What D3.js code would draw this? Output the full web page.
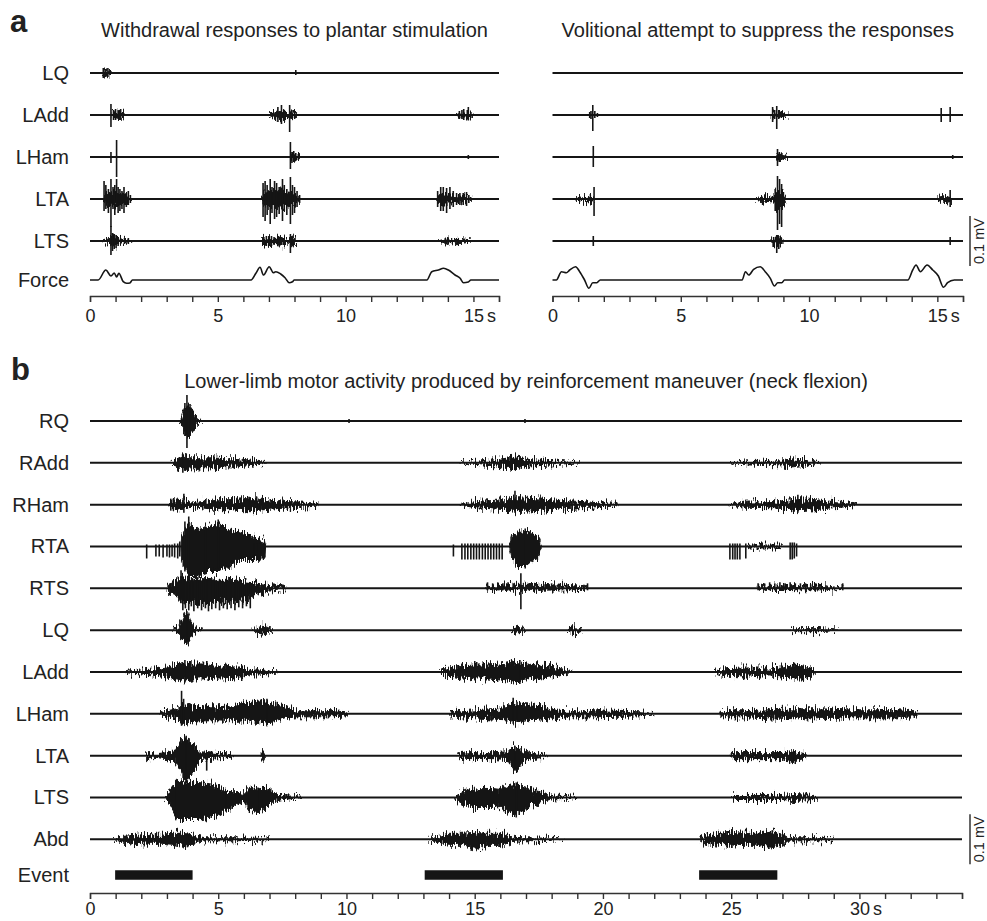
<!DOCTYPE html>
<html>
<head>
<meta charset="utf-8">
<script src="https://cdn.jsdelivr.net/npm/d3@7"></script>
<style>
  body { margin: 0; background: #fff; }
  svg text { font-family: Arial, "Liberation Sans", Helvetica, sans-serif; fill: #222; }
</style>
</head>
<body>
<script>
// ---- data (time in s, EMG amplitude in µV as [t, up, down], force in a.u.) ----
var musclesA = ["LQ", "LAdd", "LHam", "LTA", "LTS"];
var musclesB = ["RQ", "RAdd", "RHam", "RTA", "RTS", "LQ", "LAdd", "LHam", "LTA", "LTS", "Abd"];
var ticksA = [0, 5, 10, 15];
var ticksB = [0, 5, 10, 15, 20, 25, 30];

// a, left: withdrawal responses to plantar stimulation
var stimEnv = {
  LQ: [[[0.45, 0, 0], [0.6, 5, 5], [0.85, 0, 0]]],
  LAdd: [[[0.85, 0, 0], [1.0, 6, 6], [1.3, 4, 4], [1.4, 0, 0]],
         [[7.0, 0, 0], [7.1, 3, 3], [7.5, 8, 8], [7.9, 6, 6], [8.1, 0, 0]],
         [[14.3, 0, 0], [14.5, 4, 4], [14.9, 4, 4], [15.0, 0, 0]]],
  LHam: [[[7.8, 0, 0], [7.9, 8, 8], [8.2, 3, 3], [8.3, 0, 0]]],
  LTA: [[[0.5, 0, 0], [0.6, 10, 10], [1.0, 14, 14], [1.4, 8, 8], [1.65, 0, 0]],
        [[6.7, 0, 0], [6.8, 14, 14], [7.5, 16, 16], [8.0, 12, 12], [8.25, 0, 0]],
        [[13.55, 0, 0], [13.7, 8, 8], [14.1, 8, 8], [14.6, 5, 5], [14.95, 0, 0]]],
  LTS: [[[0.5, 0, 0], [0.7, 4, 4], [0.9, 10, 10], [1.2, 5, 5], [1.65, 0, 0]],
        [[6.7, 0, 0], [6.8, 6, 6], [7.5, 8, 8], [7.7, 4, 4], [7.95, 6, 6], [8.1, 0, 0]],
        [[13.6, 0, 0], [13.9, 4, 4], [14.5, 3, 3], [14.9, 0, 0]]]
};
var stimSpk = {
  LQ: [[0.52, 10, 10], [0.6, 8, 8], [0.7, 10, 8], [0.78, 4, 4], [8.05, 6, 4]],
  LAdd: [[0.82, 22, 24], [0.92, 10, 10], [1.0, 12, 10], [1.1, 10, 8], [1.2, 12, 10], [1.28, 6, 6],
         [7.15, 4, 4], [7.25, 6, 6], [7.35, 16, 14], [7.49, 20, 18], [7.6, 8, 8], [7.81, 20, 34],
         [7.9, 10, 8], [8.0, 6, 6], [14.45, 8, 8], [14.55, 10, 8], [14.62, 12, 10], [14.8, 16, 11], [14.9, 6, 6]],
  LHam: [[0.82, 10, 12], [1.04, 34, 40], [7.84, 30, 24], [7.9, 10, 12], [7.97, 12, 10], [8.05, 8, 8],
         [8.15, 6, 6], [14.8, 4, 4]],
  LTA: [[0.55, 36, 24], [0.62, 28, 20], [0.72, 20, 28], [0.82, 40, 56], [0.9, 24, 20], [0.97, 28, 32],
        [1.04, 40, 16], [1.1, 24, 28], [1.17, 20, 24], [1.25, 16, 20], [1.33, 24, 28], [1.42, 12, 16],
        [1.5, 16, 12], [1.58, 8, 8],
        [6.77, 32, 36], [6.85, 36, 44], [6.93, 28, 32], [7.05, 40, 50], [7.12, 24, 28], [7.22, 36, 40],
        [7.3, 32, 36], [7.4, 24, 30], [7.53, 40, 44], [7.6, 28, 24], [7.7, 20, 32], [7.84, 44, 50],
        [7.92, 28, 32], [8.0, 24, 28], [8.1, 16, 16], [8.2, 8, 8],
        [13.6, 16, 16], [13.72, 24, 24], [13.82, 24, 24], [13.95, 22, 28], [14.08, 24, 20], [14.21, 16, 16],
        [14.34, 12, 12], [14.47, 12, 12], [14.6, 12, 12], [14.73, 14, 14], [14.82, 8, 8], [14.89, 4, 4]],
  LTS: [[0.82, 30, 28], [0.88, 16, 20], [0.95, 14, 16], [1.02, 12, 14], [1.1, 8, 10], [1.2, 6, 6],
        [1.35, 6, 6], [1.5, 6, 6], [6.8, 8, 8], [6.9, 10, 10], [7.0, 10, 10], [7.1, 10, 10], [7.2, 8, 8],
        [7.35, 10, 10], [7.5, 8, 8], [7.84, 14, 24], [7.92, 8, 8], [13.9, 6, 6], [14.0, 8, 8], [14.4, 4, 4]]
};
var forceStim = [[0, 0], [0.32, 0], [0.62, 10], [0.82, 4], [0.95, 7], [1.04, 3], [1.13, 6.7], [1.3, -1.7],
  [1.43, -3.3], [1.56, -3], [1.66, 0], [6.3, 0], [6.49, 6.7], [6.65, 12.7], [6.79, 5], [7.01, 13.3],
  [7.17, 7.3], [7.27, 8.3], [7.46, 6], [7.63, 2.3], [7.79, -2.7], [7.92, -1.7], [7.99, 0], [13.18, 0],
  [13.37, 8.3], [13.63, 10], [13.83, 11.7], [14.02, 10], [14.28, 5], [14.48, 1.7], [14.61, -2.7],
  [14.8, -2], [14.9, 0], [16, 0]];

// a, right: volitional attempt to suppress
var suppEnv = {
  LQ: [],
  LAdd: [[[8.5, 0, 0], [8.6, 4, 4], [9.1, 2, 2], [9.2, 0, 0]]],
  LHam: [[[8.7, 0, 0], [8.8, 6, 6], [9.1, 2, 2], [9.2, 0, 0]]],
  LTA: [[[0.9, 0, 0], [1.1, 4, 4], [1.5, 6, 6], [1.65, 0, 0]],
        [[7.9, 0, 0], [8.2, 4, 4], [8.6, 6, 6], [8.75, 20, 20], [8.95, 16, 16], [9.1, 0, 0]],
        [[15.0, 0, 0], [15.2, 4, 4], [15.45, 6, 6], [15.6, 0, 0]]],
  LTS: [[[8.5, 0, 0], [8.65, 8, 8], [8.9, 6, 6], [9.0, 0, 0]]]
};
var suppSpk = {
  LQ: [],
  LAdd: [[1.45, 6, 6], [1.5, 8, 8], [1.57, 20, 32], [1.65, 8, 6], [1.75, 4, 4], [8.58, 16, 14],
         [8.66, 10, 8], [8.74, 18, 28], [8.82, 10, 8], [8.92, 8, 6], [9.02, 4, 4], [15.15, 14, 14], [15.5, 16, 14]],
  LHam: [[1.59, 22, 20], [8.77, 16, 18], [8.84, 10, 10], [8.93, 8, 6], [9.02, 4, 4], [15.6, 4, 4]],
  LTA: [[1.62, 24, 34], [8.68, 20, 24], [8.77, 46, 62], [8.85, 40, 50], [8.93, 30, 56], [9.0, 14, 14],
        [15.5, 18, 16]],
  LTS: [[1.59, 10, 10], [8.62, 8, 12], [8.74, 12, 24], [8.82, 10, 16], [8.92, 6, 6], [15.5, 8, 8]]
};
var forceSupp = [[0, 0], [0.15, 0], [0.35, 8.3], [0.54, 7.3], [0.67, 10], [0.9, 13.3], [1.06, 8.3],
  [1.25, 0], [1.42, -8.3], [1.57, -2.7], [1.73, -2.7], [1.86, 0], [7.39, 0], [7.52, 8.3], [7.65, 5],
  [7.84, 10.7], [8.1, 13.3], [8.29, 8.3], [8.49, 1.7], [8.65, -6], [8.78, -2.7], [8.94, -2.7], [9.04, 0],
  [13.85, 0], [14.04, 10], [14.17, 15], [14.34, 8.3], [14.6, 15], [14.82, 10], [15.04, 4], [15.24, -7.3],
  [15.4, -2.7], [15.66, 0], [16, 0]];

// b: reinforcement maneuver
var neckEnv = {
  RQ: [[[3.45, 0, 0], [3.55, 4, 4], [3.65, 20, 20], [3.72, 30, 30], [3.85, 30, 30], [3.95, 24, 24],
        [4.05, 16, 16], [4.15, 8, 8], [4.3, 2, 2], [4.4, 0, 0]]],
  RAdd: [[[3.15, 0, 0], [3.4, 8, 8], [3.6, 14, 14], [3.9, 10, 10], [4.3, 10, 10], [4.8, 10, 10], [5.3, 8, 8],
          [5.8, 8, 8], [6.3, 5, 5], [6.8, 1, 1], [6.9, 0, 0]],
         [[14.4, 0, 0], [15.0, 3, 3], [15.8, 6, 6], [16.6, 12, 12], [17.2, 6, 6], [17.8, 5, 5], [18.5, 2, 2], [19.1, 0, 0]],
         [[24.95, 0, 0], [26, 3, 3], [27, 4, 4], [27.4, 8, 8], [28, 4, 4], [28.5, 0, 0]]],
  RHam: [[[3.05, 0, 0], [3.3, 10, 10], [3.5, 8, 8], [3.8, 6, 6], [4.2, 5, 5], [4.6, 8, 8], [5.0, 10, 10],
          [5.5, 10, 10], [6.0, 12, 12], [6.4, 12, 12], [6.8, 10, 10], [7.3, 8, 8], [7.8, 6, 6], [8.3, 5, 5],
          [8.8, 3, 3], [8.9, 0, 0]],
         [[14.4, 0, 0], [15.0, 6, 6], [15.6, 8, 8], [16.2, 10, 10], [16.6, 14, 14], [17.3, 12, 12], [17.9, 10, 10],
          [18.5, 8, 8], [19.2, 6, 6], [19.8, 4, 4], [20.5, 3, 3], [20.6, 0, 0]],
         [[24.9, 0, 0], [25.5, 5, 5], [26.5, 6, 6], [27.1, 8, 8], [27.6, 12, 12], [28.3, 10, 10], [28.8, 7, 7],
          [29.3, 5, 5], [29.8, 2, 2], [29.9, 0, 0]]],
  RTA: [[[3.55, 0, 0], [3.57, 20, 30], [3.85, 44, 60], [4.2, 36, 60], [4.6, 40, 50], [5.0, 44, 50],
         [5.4, 36, 44], [5.8, 30, 26], [6.2, 24, 26], [6.5, 16, 26], [6.8, 10, 24], [6.85, 0, 0]],
        [[16.35, 0, 0], [16.45, 20, 24], [16.7, 30, 40], [16.97, 32, 40], [17.2, 28, 30], [17.5, 16, 20], [17.6, 0, 0]],
        [[25.6, 0, 0], [25.7, 3, 3], [26.9, 3, 3], [27.0, 0, 0]]],
  RTS: [[[3.0, 0, 0], [3.05, 8, 6], [3.3, 12, 12], [3.5, 20, 24], [3.6, 24, 30], [3.8, 18, 28], [4.2, 18, 28],
         [4.6, 20, 28], [5.0, 18, 28], [5.4, 18, 26], [5.8, 16, 24], [6.2, 14, 22], [6.5, 10, 12], [6.9, 8, 6],
         [7.3, 6, 4], [7.6, 4, 2], [7.65, 0, 0]],
        [[15.4, 0, 0], [15.5, 4, 2], [16.5, 8, 4], [17.5, 8, 4], [18.5, 6, 3], [19.3, 4, 2], [19.4, 0, 0]],
        [[26.0, 0, 0], [26.1, 4, 2], [28.5, 6, 3], [29.4, 0, 0]]],
  LQ: [[[3.2, 0, 0], [3.4, 6, 6], [3.55, 16, 16], [3.7, 32, 26], [3.8, 38, 28], [3.9, 20, 20], [4.05, 8, 8],
        [4.2, 3, 3], [4.4, 0, 0]],
       [[6.3, 0, 0], [6.5, 4, 4], [6.7, 8, 8], [6.9, 6, 6], [7.15, 0, 0]],
       [[16.4, 0, 0], [16.6, 6, 6], [16.9, 4, 4], [17.0, 0, 0]],
       [[18.6, 0, 0], [18.8, 5, 5], [19.1, 4, 4], [19.2, 0, 0]],
       [[27.3, 0, 0], [27.6, 3, 3], [28.5, 3, 3], [29.2, 0, 0]]],
  LAdd: [[[1.4, 0, 0], [1.5, 2, 2], [2.0, 4, 4], [2.5, 6, 6], [3.0, 10, 10], [3.4, 14, 14], [3.7, 18, 18],
          [4.0, 16, 16], [4.4, 16, 16], [4.8, 12, 12], [5.2, 12, 12], [5.6, 10, 10], [6.0, 10, 10], [6.3, 4, 4],
          [6.6, 4, 4], [6.9, 6, 6], [7.0, 2, 2], [7.3, 0, 0]],
         [[13.6, 0, 0], [14.0, 8, 8], [14.5, 12, 12], [15.0, 14, 14], [15.5, 14, 14], [16.0, 16, 16],
          [16.5, 20, 20], [17.0, 16, 16], [17.5, 14, 14], [18.0, 12, 12], [18.3, 8, 8], [18.6, 3, 3], [18.8, 0, 0]],
         [[24.3, 0, 0], [24.6, 6, 6], [25.5, 8, 8], [26.5, 8, 8], [27.0, 10, 10], [27.4, 14, 12], [27.8, 12, 12],
          [28.1, 8, 8], [28.3, 0, 0]]],
  LHam: [[[2.7, 0, 0], [2.8, 3, 3], [3.0, 6, 6], [3.4, 10, 10], [3.7, 20, 20], [4.0, 14, 14], [4.5, 14, 14],
          [5.0, 14, 14], [5.5, 16, 16], [6.0, 20, 14], [6.6, 26, 20], [7.2, 20, 16], [7.6, 16, 10], [8.0, 6, 6],
          [8.5, 6, 6], [9.0, 6, 6], [9.5, 6, 6], [10.0, 4, 4], [10.1, 0, 0]],
         [[14.0, 0, 0], [14.1, 4, 4], [14.5, 6, 6], [15.0, 8, 8], [15.6, 10, 10], [16.2, 12, 12], [16.5, 22, 20],
          [17.0, 18, 14], [17.7, 16, 12], [18.0, 8, 8], [18.6, 6, 6], [19.5, 6, 6], [20.5, 5, 5], [21.5, 4, 4], [22.0, 0, 0]],
         [[24.55, 0, 0], [24.6, 6, 6], [25.5, 6, 6], [26.5, 8, 8], [27.5, 10, 10], [28.5, 10, 10], [29.5, 8, 8],
          [30.5, 8, 8], [31.5, 8, 8], [32.2, 6, 6], [32.3, 0, 0]]],
  LTA: [[[2.15, 0, 0], [2.2, 4, 4], [2.6, 4, 4], [3.0, 6, 6], [3.3, 10, 10], [3.45, 24, 24], [3.6, 34, 40],
         [3.75, 38, 52], [3.9, 28, 40], [4.1, 16, 28], [4.3, 8, 8], [4.6, 6, 6], [5.0, 4, 4], [5.5, 4, 4], [5.6, 0, 0]],
        [[6.65, 0, 0], [6.75, 10, 10], [6.85, 0, 0]],
        [[14.3, 0, 0], [14.4, 4, 4], [14.8, 6, 6], [15.3, 6, 6], [15.8, 6, 6], [16.3, 8, 8], [16.5, 20, 30],
         [16.7, 16, 28], [16.9, 10, 10], [17.2, 6, 6], [17.6, 4, 4], [17.85, 0, 0]],
        [[24.95, 0, 0], [25.1, 6, 6], [27.0, 6, 6], [27.4, 8, 14], [27.9, 4, 4], [27.95, 0, 0]]],
  LTS: [[[2.9, 0, 0], [3.0, 4, 4], [3.2, 20, 24], [3.4, 32, 44], [3.8, 30, 44], [4.2, 30, 44], [4.6, 28, 40],
         [5.0, 24, 36], [5.3, 12, 28], [5.6, 12, 16], [6.0, 8, 8], [6.2, 18, 26], [6.6, 20, 28], [6.9, 20, 20],
         [7.2, 8, 8], [7.5, 4, 4], [8.0, 2, 2], [8.3, 0, 0]],
        [[14.2, 0, 0], [14.3, 6, 6], [14.6, 14, 14], [14.9, 16, 20], [15.3, 18, 20], [15.7, 18, 20], [16.0, 16, 18],
         [16.3, 24, 30], [16.6, 26, 36], [16.9, 20, 28], [17.2, 16, 16], [17.5, 12, 12], [17.8, 6, 6], [18.0, 3, 3],
         [18.5, 2, 2], [19.0, 0, 0]],
        [[25.0, 0, 0], [25.1, 4, 4], [27.0, 4, 4], [27.4, 6, 6], [28.3, 4, 4], [28.4, 0, 0]]],
  Abd: [[[0.9, 0, 0], [1.3, 6, 6], [1.8, 8, 8], [2.3, 10, 10], [2.8, 10, 10], [3.2, 12, 12], [3.6, 12, 16],
         [3.9, 10, 10], [4.2, 6, 6], [4.5, 3, 3], [5.5, 3, 3], [6.5, 2, 2], [7.0, 0, 0]],
        [[13.2, 0, 0], [13.6, 8, 8], [14.0, 12, 12], [14.5, 12, 12], [15.0, 14, 20], [15.5, 12, 12], [16.0, 12, 12],
         [16.3, 8, 8], [16.5, 4, 4], [17.0, 3, 3], [18.0, 2, 2], [18.5, 0, 0]],
        [[23.75, 0, 0], [24.0, 8, 8], [24.5, 12, 12], [25.0, 14, 14], [25.5, 12, 12], [26.0, 12, 12], [26.5, 16, 16],
         [27.0, 10, 10], [27.2, 4, 4], [27.5, 3, 3], [28.5, 3, 3], [29.0, 0, 0]]]
};
var neckSpk = {
  RQ: [[3.7, 36, 30], [3.78, 52, 54], [3.9, 34, 30], [10.1, 4, 4], [16.96, 4, 4]],
  RAdd: [[3.62, 18, 20], [16.6, 12, 14]],
  RHam: [[3.15, 12, 12], [3.25, 12, 12], [3.4, 10, 10], [3.66, 22, 16], [6.2, 16, 10], [6.5, 16, 10],
         [6.7, 14, 10], [16.57, 28, 16], [16.75, 16, 12], [27.6, 20, 16]],
  RTA: [[2.21, 4, 24], [2.57, 4, 20], [2.7, 4, 20], [2.85, 4, 22], [3.0, 4, 20], [3.1, 4, 22], [3.2, 4, 20],
        [3.3, 6, 22], [3.42, 6, 24], [3.5, 10, 20], [3.7, 50, 50], [3.85, 60, 64], [4.5, 40, 56], [5.0, 54, 44],
        [6.4, 6, 24], [6.5, 6, 26], [6.62, 6, 24], [6.72, 6, 24], [6.82, 4, 22],
        [14.17, 4, 20], [14.5, 6, 26], [14.62, 6, 26], [14.73, 6, 26], [14.85, 6, 26], [14.96, 6, 26],
        [15.07, 6, 26], [15.18, 6, 26], [15.3, 6, 26], [15.41, 6, 26], [15.52, 6, 26], [15.63, 6, 26],
        [15.74, 6, 26], [15.85, 6, 26], [15.96, 6, 26], [16.07, 6, 26], [16.97, 36, 44],
        [24.95, 6, 26], [25.06, 6, 26], [25.15, 6, 26], [25.24, 6, 26], [25.34, 6, 26], [25.57, 6, 24],
        [27.3, 8, 26], [27.38, 8, 26], [27.46, 8, 24], [27.55, 6, 20]],
  RTS: [[3.55, 36, 30], [3.62, 20, 44], [3.72, 16, 40], [3.85, 16, 44], [3.95, 14, 36], [4.05, 18, 46],
        [4.2, 16, 40], [4.35, 14, 44], [4.5, 18, 40], [4.62, 16, 46], [4.75, 20, 42], [4.9, 16, 40],
        [5.05, 18, 44], [5.2, 14, 40], [5.35, 16, 42], [5.5, 14, 40], [5.65, 12, 44], [5.8, 12, 38],
        [5.95, 10, 40], [6.1, 10, 36], [6.25, 8, 40],
        [15.5, 12, 4], [15.7, 10, 4], [15.9, 12, 4], [16.1, 10, 4], [16.3, 12, 4], [16.5, 10, 4], [16.8, 30, 42],
        [17.1, 10, 4], [17.4, 10, 4], [17.7, 8, 4], [18.0, 10, 4], [18.3, 8, 4], [18.6, 8, 4], [18.9, 6, 4],
        [19.4, 10, 4],
        [26.05, 10, 4], [26.3, 10, 4], [26.5, 12, 4], [26.7, 10, 4], [26.9, 12, 4], [27.1, 10, 4], [27.3, 12, 4],
        [27.5, 10, 4], [27.7, 10, 4], [27.9, 10, 4], [28.1, 8, 4], [28.3, 10, 4], [28.5, 8, 4], [28.7, 6, 4],
        [29.35, 10, 4]],
  LQ: [[3.78, 38, 28]],
  LAdd: [[3.7, 24, 20], [16.76, 24, 24], [27.4, 16, 12]],
  LHam: [[3.57, 46, 24], [3.65, 30, 20], [6.9, 30, 16], [7.3, 24, 10], [16.5, 32, 20], [16.65, 24, 16]],
  LTA: [[3.75, 40, 52], [4.55, 4, 30], [16.57, 20, 30], [27.4, 8, 14]],
  LTS: [[3.35, 32, 44], [5.3, 10, 28], [6.55, 20, 30], [16.62, 30, 40]],
  Abd: [[3.8, 12, 16], [15.1, 10, 20], [26.6, 18, 12]]
};
var events = [[0.98, 4.0], [13.05, 16.1], [23.75, 26.8]];

// ---- layout ----
var w = 987, h = 921;
var ink = "#151515";

var svg = d3.select("body")
  .append("svg")
  .attr("width", w)
  .attr("height", h);

// rough edge for the bursts so they read like raw EMG rather than smooth blobs
var filt = svg.append("defs").append("filter")
  .attr("id", "emg")
  .attr("filterUnits", "userSpaceOnUse")
  .attr("x", 0).attr("y", 0).attr("width", w).attr("height", h)
  .attr("color-interpolation-filters", "sRGB");
filt.append("feTurbulence")
  .attr("type", "fractalNoise")
  .attr("baseFrequency", "0.9 0.12")
  .attr("numOctaves", 2)
  .attr("seed", 7)
  .attr("result", "noise");
filt.append("feColorMatrix")
  .attr("in", "noise")
  .attr("type", "matrix")
  .attr("values", "0 0 0 0 0.5  0 1 0 0 0  0 0 0 0 0  0 0 0 0 1")
  .attr("result", "disp");
filt.append("feDisplacementMap")
  .attr("in", "SourceGraphic")
  .attr("in2", "disp")
  .attr("scale", 16)
  .attr("xChannelSelector", "R")
  .attr("yChannelSelector", "G");

var xStim = d3.scaleLinear().domain([0, 16]).range([90, 499]);
var xSupp = d3.scaleLinear().domain([0, 16]).range([552.5, 963]);
var xNeck = d3.scaleLinear().domain([0, 34]).range([90, 962]);
var amp = d3.scaleLinear().domain([0, 100]).range([0, 50]); // 0.1 mV = 50 px
var yA = d3.scalePoint().domain(musclesA).range([73, 241]);
var yB = d3.scalePoint().domain(musclesB).range([421, 839.3]);
var forceBase = 280;
var yForce = d3.scaleLinear().domain([-10, 20]).range([forceBase + 10, forceBase - 20]);

function drawTrace(x, base, tEnd, env, spk, lw) {
  var g = svg.append("g");
  g.append("line")
    .attr("x1", x(0)).attr("x2", x(tEnd))
    .attr("y1", base).attr("y2", base)
    .attr("stroke", ink).attr("stroke-width", lw);

  var area = d3.area()
    .x(function(d) { return x(d[0]); })
    .y0(function(d) { return base + amp(d[2]); })
    .y1(function(d) { return base - amp(d[1]); });

  g.append("g")
    .attr("filter", "url(#emg)")
    .selectAll("path")
    .data(env || [])
    .enter()
    .append("path")
    .attr("d", area)
    .attr("fill", ink)
    .attr("stroke", ink)
    .attr("stroke-width", 1);

  g.selectAll("line.spike")
    .data(spk || [])
    .enter()
    .append("line")
    .attr("class", "spike")
    .attr("x1", function(d) { return x(d[0]); })
    .attr("x2", function(d) { return x(d[0]); })
    .attr("y1", function(d) { return base - amp(d[1]); })
    .attr("y2", function(d) { return base + amp(d[2]); })
    .attr("stroke", ink)
    .attr("stroke-width", 1.6);
}

function drawLabel(txt, y) {
  svg.append("text")
    .attr("x", 69).attr("y", y + 7)
    .attr("text-anchor", "end")
    .style("font-size", "20px")
    .text(txt);
}

function drawAxis(x, y, max, labels, lastLabel, pad) {
  var axis = d3.axisBottom(x)
    .tickValues(d3.range(0, max + 1))
    .tickSize(6)
    .tickSizeOuter(6)
    .tickPadding(pad)
    .tickFormat(function(d) { return labels.indexOf(d) >= 0 ? d : ""; });
  var g = svg.append("g")
    .attr("transform", "translate(0," + y + ")")
    .call(axis);
  g.select(".domain").attr("stroke", "#333").attr("stroke-width", 1.4);
  g.selectAll(".tick line").attr("stroke", "#333").attr("stroke-width", 1.4);
  g.selectAll(".tick text")
    .style("font-family", "Arial, 'Liberation Sans', sans-serif")
    .style("font-size", "18px")
    .attr("fill", "#222");
  svg.append("text")
    .attr("x", x(lastLabel) + 13.5)
    .attr("y", y + 6 + pad + 12.8)
    .style("font-size", "18px")
    .text("s");
}

function drawScaleBar(yCenter) {
  var half = amp(100) / 2;
  svg.append("line")
    .attr("x1", 970).attr("x2", 970)
    .attr("y1", yCenter - half).attr("y2", yCenter + half)
    .attr("stroke", "#333").attr("stroke-width", 1.5);
  svg.append("text")
    .attr("transform", "translate(983.5," + yCenter + ") rotate(-90)")
    .attr("text-anchor", "middle")
    .style("font-size", "14.5px")
    .text("0.1 mV");
}

// ---- panel a ----
svg.append("text").attr("x", 10).attr("y", 31.5)
  .style("font-size", "31px").style("font-weight", "bold").text("a");
svg.append("text").attr("x", (xStim(0) + xStim(16)) / 2).attr("y", 37)
  .attr("text-anchor", "middle").style("font-size", "20px")
  .text("Withdrawal responses to plantar stimulation");
svg.append("text").attr("x", (xSupp(0) + xSupp(16)) / 2).attr("y", 37)
  .attr("text-anchor", "middle").style("font-size", "20px")
  .text("Volitional attempt to suppress the responses");

musclesA.forEach(function(m) {
  drawLabel(m, yA(m));
  drawTrace(xStim, yA(m), 16, stimEnv[m], stimSpk[m], 2.2);
  drawTrace(xSupp, yA(m), 16, suppEnv[m], suppSpk[m], 2.2);
});
drawLabel("Force", forceBase);

var forceLine = function(x) {
  return d3.line()
    .x(function(d) { return x(d[0]); })
    .y(function(d) { return yForce(d[1]); })
    .curve(d3.curveMonotoneX);
};
svg.append("path").datum(forceStim).attr("d", forceLine(xStim))
  .attr("fill", "none").attr("stroke", ink).attr("stroke-width", 1.6);
svg.append("path").datum(forceSupp).attr("d", forceLine(xSupp))
  .attr("fill", "none").attr("stroke", ink).attr("stroke-width", 1.6);

drawAxis(xStim, 296, 16, ticksA, 15, 7);
drawAxis(xSupp, 296, 16, ticksA, 15, 7);
drawScaleBar(yA("LTS"));

// ---- panel b ----
svg.append("text").attr("x", 11).attr("y", 380)
  .style("font-size", "31px").style("font-weight", "bold").text("b");
svg.append("text").attr("x", (xNeck(0) + xNeck(34)) / 2).attr("y", 388)
  .attr("text-anchor", "middle").style("font-size", "20px")
  .text("Lower-limb motor activity produced by reinforcement maneuver (neck flexion)");

musclesB.forEach(function(m) {
  drawLabel(m, yB(m));
  drawTrace(xNeck, yB(m), 34, neckEnv[m], neckSpk[m], 2);
});

var eventY = 875;
drawLabel("Event", eventY);
svg.selectAll("rect.event")
  .data(events)
  .enter()
  .append("rect")
  .attr("class", "event")
  .attr("x", function(d) { return xNeck(d[0]); })
  .attr("width", function(d) { return xNeck(d[1]) - xNeck(d[0]); })
  .attr("y", eventY - 4.75)
  .attr("height", 9.5)
  .attr("fill", ink);

drawAxis(xNeck, 893, 34, ticksB, 30, 3.5);
drawScaleBar(yB("Abd"));
</script>
</body>
</html>
